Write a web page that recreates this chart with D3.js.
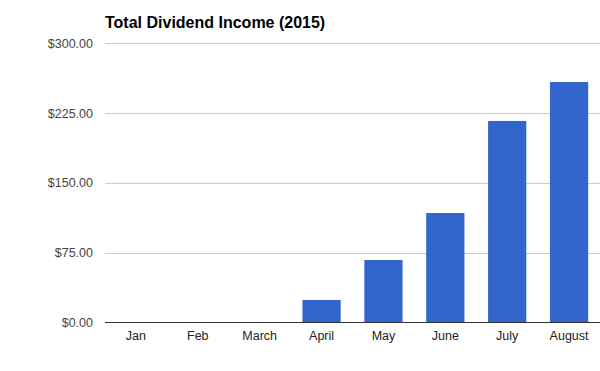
<!DOCTYPE html>
<html>
<head>
<meta charset="utf-8">
<script src="https://cdn.jsdelivr.net/npm/d3@7"></script>
<style>
body{margin:0;background:#fff;}
svg{display:block;font-family:"Liberation Sans",Arial,sans-serif;}
</style>
</head>
<body>
<svg id="chart" width="600" height="371"></svg>
<script>
const categories = ["Jan","Feb","March","April","May","June","July","August"];
const values = [0, 0, 0, 24, 67, 117.5, 216.5, 258.4];
const yTicks = [0, 75, 150, 225, 300];
const title = "Total Dividend Income (2015)";

(function () {
const svg = d3.select("#chart");
const mLeft = 105, mRight = 600, mTop = 43.3, mBottom = 322.3;

const x = d3.scaleBand().domain(categories).range([mLeft, mRight]).paddingInner(0.382).paddingOuter(0.191);
const y = d3.scaleLinear().domain([0, 300]).range([mBottom, mTop]);
const fmt = v => "$" + d3.format(",.2f")(v);

// gridlines
svg.append("g").selectAll("line").data(yTicks.filter(d => d !== 0)).join("line")
  .attr("x1", mLeft).attr("x2", mRight)
  .attr("y1", d => Math.round(y(d)) + 0.5).attr("y2", d => Math.round(y(d)) + 0.5)
  .attr("stroke", "#cccccc").attr("stroke-width", 1);

// y labels
svg.append("g").selectAll("text").data(yTicks).join("text")
  .attr("x", 93).attr("y", d => y(d) + 4.5)
  .attr("text-anchor", "end").attr("font-size", 12.5).attr("fill", "#444")
  .text(fmt);

// bars
svg.append("g").selectAll("rect").data(categories.map((c, i) => ({c, v: values[i]}))).join("rect")
  .attr("x", d => x(d.c)).attr("width", x.bandwidth())
  .attr("y", d => y(d.v)).attr("height", d => y(0) - y(d.v))
  .attr("fill", "#3366cc");

// baseline
svg.append("line").attr("x1", mLeft).attr("x2", mRight)
  .attr("y1", Math.round(y(0)) + 0.5).attr("y2", Math.round(y(0)) + 0.5)
  .attr("stroke", "#333333").attr("stroke-width", 1);

// x labels
svg.append("g").selectAll("text").data(categories).join("text")
  .attr("x", d => x(d) + x.bandwidth() / 2).attr("y", 339.5)
  .attr("text-anchor", "middle").attr("font-size", 12.5).attr("fill", "#222")
  .text(d => d);

// title
svg.append("text").attr("x", 105).attr("y", 27.7)
  .attr("font-size", 16).attr("font-weight", "bold").attr("fill", "#000")
  .text(title);
})();
</script>
</body>
</html>
